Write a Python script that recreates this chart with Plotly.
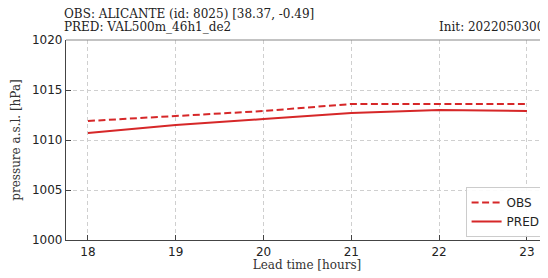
import plotly.graph_objects as go

lead_hours = [18, 19, 20, 21, 22, 23]
obs_values = [1011.9, 1012.4, 1012.9, 1013.6, 1013.6, 1013.6]
pred_values = [1010.7, 1011.5, 1012.1, 1012.7, 1013.0, 1012.9]
y_ticks = [1000, 1005, 1010, 1015, 1020]

title_left_1 = "OBS: ALICANTE (id: 8025) [38.37, -0.49]"
title_left_2 = "PRED: VAL500m_46h1_de2"
title_right = "Init: 2022050300"

red = "#d62728"
serif = "DejaVu Serif"
sans = "DejaVu Sans"

fig = go.Figure()
fig.add_trace(go.Scatter(x=lead_hours, y=obs_values, mode="lines", name="OBS",
                         line=dict(color=red, width=2, dash="7px,3.5px")))
fig.add_trace(go.Scatter(x=lead_hours, y=pred_values, mode="lines", name="PRED",
                         line=dict(color=red, width=2)))

axis_common = dict(
    showline=True, linecolor="#444444", linewidth=1.2,
    ticks="inside", ticklen=5, tickcolor="#444444", tickwidth=1,
    showgrid=True, gridcolor="#cfcfcf", griddash="4px,3px", gridwidth=1,
    zeroline=False, tickfont=dict(family=sans, size=12, color="#222222"),
)

fig.update_xaxes(range=[17.75, 23.24], tickvals=lead_hours,
                 title=dict(text="Lead time [hours]", font=dict(family=serif, size=12, color="#333333"), standoff=3),
                 **axis_common)
fig.update_yaxes(range=[1000, 1020], tickvals=y_ticks,
                 title=dict(text="pressure a.s.l. [hPa]", font=dict(family=serif, size=12, color="#333333"), standoff=8),
                 **axis_common)

# top border line
fig.add_shape(type="line", xref="paper", yref="paper", x0=0, x1=1, y0=1, y1=1,
              line=dict(color="#888888", width=1.2))

fig.add_annotation(text=title_left_1, xref="paper", yref="paper", x=-0.009, y=1, yshift=26,
                   xanchor="left", yanchor="middle", showarrow=False,
                   font=dict(family=serif, size=12, color="#222222"))
fig.add_annotation(text=title_left_2, xref="paper", yref="paper", x=-0.009, y=1, yshift=13,
                   xanchor="left", yanchor="middle", showarrow=False,
                   font=dict(family=serif, size=12, color="#222222"))
fig.add_annotation(text=title_right, xref="paper", yref="paper", x=0.77, y=1, yshift=13,
                   xanchor="left", yanchor="middle", showarrow=False,
                   font=dict(family=serif, size=12, color="#222222"))

# page body has an 8px margin, so the figure is 8px smaller on each axis
fig.update_layout(
    width=540, height=270,
    margin=dict(l=58, r=0, t=32, b=38),
    plot_bgcolor="white", paper_bgcolor="white",
    showlegend=True,
    legend=dict(x=0.995, y=0.015, xanchor="right", yanchor="bottom",
                bgcolor="rgba(255,255,255,0.9)", bordercolor="#cccccc", borderwidth=1,
                font=dict(family=sans, size=12, color="#222222"),
                itemwidth=30, tracegroupgap=2),
)

fig.write_html("out.html")
